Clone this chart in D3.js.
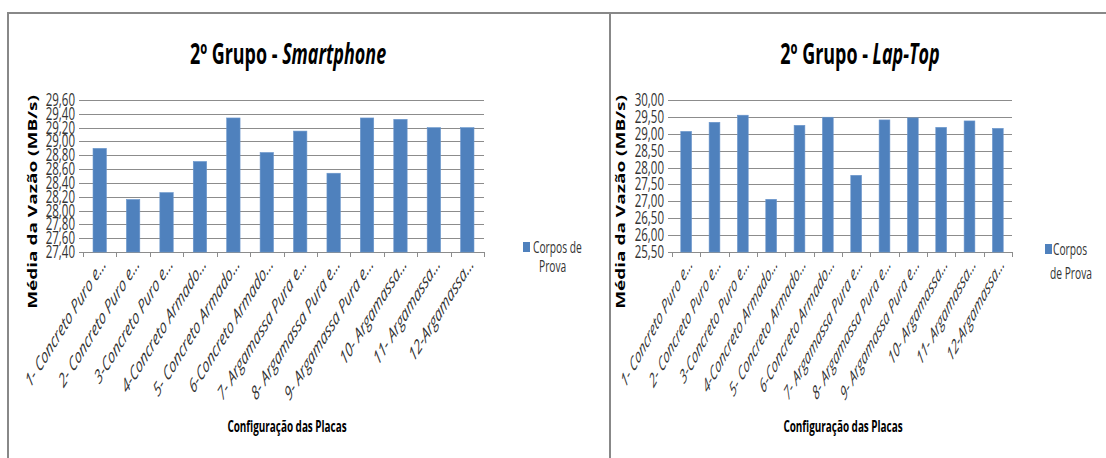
<!DOCTYPE html>
<html>
<head>
<meta charset="utf-8">
<script src="https://cdn.jsdelivr.net/npm/d3@7"></script>
<style>
  body { margin: 0; background: #fff; }
  text { font-family: "Open Sans", "Liberation Sans", sans-serif; fill: #1a1a1a; }
</style>
</head>
<body>
<div id="root"></div>
<script>
// Data
const placas = [
  "1- Concreto Puro e...", "2- Concreto Puro e...", "3-Concreto Puro e...",
  "4-Concreto Armado...", "5- Concreto Armado...", "6-Concreto Armado...",
  "7- Argamassa Pura e...", "8- Argamassa Pura e...", "9- Argamassa Pura e...",
  "10- Argamassa...", "11- Argamassa...", "12-Argamassa..."
]
const smartphoneValues = [28.90, 28.16, 28.26, 28.71, 29.34, 28.84, 29.15, 28.54, 29.34, 29.32, 29.20, 29.20]
const laptopValues = [29.07, 29.34, 29.55, 27.06, 29.25, 29.49, 27.77, 29.41, 29.47, 29.19, 29.38, 29.16]
const smartphoneTicks = [27.4, 27.6, 27.8, 28.0, 28.2, 28.4, 28.6, 28.8, 29.0, 29.2, 29.4, 29.6]
const laptopTicks = [25.5, 26.0, 26.5, 27.0, 27.5, 28.0, 28.5, 29.0, 29.5, 30.0]
const legendLines = ["Corpos de", "Prova"]
const legendLinesRight = ["Corpos", "de Prova"]

const W = 1106, H = 458
const sx = 0.64 // the source picture is squeezed horizontally
const barColor = "#4F81BD"
const gridColor = "#8c8c8c"
const fmt = d => d.toFixed(2).replace(".", ",")

const svg = d3.select("#root")
  .append("svg")
    .attr("width", W)
    .attr("height", H)

// Frame
svg.append("path")
  .attr("d", `M8,${H} V13 H${W} M610,13 V${H}`)
  .attr("fill", "none")
  .attr("stroke", "#888")
  .attr("stroke-width", 2)

function drawChart(cfg) {
  const g = svg.append("g")
  const {left, right, top, bottom} = cfg.plot

  const x = d3.scaleBand()
    .domain(placas)
    .range([left, right])
    .paddingInner(cfg.pad)
    .paddingOuter(cfg.pad / 2)

  const slot = d3.scaleBand()
    .domain(placas)
    .range([left, right])

  const y = d3.scaleLinear()
    .domain([cfg.ticks[0], cfg.ticks[cfg.ticks.length - 1]])
    .range([bottom, top])

  // Title
  const title = g.append("text")
    .attr("transform", `translate(${cfg.titleX},64) scale(${sx},1)`)
    .attr("text-anchor", "middle")
    .attr("font-size", 28)
    .attr("font-weight", "bold")
    .style("fill", "#000")
  title.append("tspan").text("2º Grupo - ")
  title.append("tspan").attr("font-style", "italic").text(cfg.titleItalic)

  // Gridlines
  g.append("g")
    .selectAll("line")
    .data(cfg.ticks)
    .enter()
    .append("line")
    .attr("x1", left - 4)
    .attr("x2", right)
    .attr("y1", d => Math.round(y(d)) + 0.5)
    .attr("y2", d => Math.round(y(d)) + 0.5)
    .attr("stroke", gridColor)

  // Y tick labels
  g.append("g")
    .selectAll("text")
    .data(cfg.ticks)
    .enter()
    .append("text")
    .attr("transform", d => `translate(${left - 8},${y(d) + 6}) scale(${sx},1)`)
    .attr("text-anchor", "end")
    .attr("font-size", 18)
    .style("fill", "#333")
    .text(fmt)

  // Category ticks at slot boundaries
  const bounds = placas.map(d => slot(d)).concat([right])
  g.append("g")
    .selectAll("line")
    .data(bounds)
    .enter()
    .append("line")
    .attr("x1", d => Math.round(d) + 0.5)
    .attr("x2", d => Math.round(d) + 0.5)
    .attr("y1", bottom)
    .attr("y2", bottom + 5)
    .attr("stroke", gridColor)

  // Bars
  g.append("g")
    .selectAll("rect")
    .data(cfg.values)
    .enter()
    .append("rect")
    .attr("x", (d, i) => x(placas[i]))
    .attr("y", d => y(d))
    .attr("width", x.bandwidth())
    .attr("height", d => bottom - y(d))
    .attr("fill", barColor)
    .attr("stroke", "#6a96cc")
    .attr("stroke-width", 0.6)

  // X labels
  g.append("g")
    .selectAll("text")
    .data(placas)
    .enter()
    .append("text")
    .attr("transform", d => `translate(${x(d) + x.bandwidth() / 2 + 7},${bottom + 13}) scale(${cfg.labelSx},1) rotate(-45)`)
    .attr("text-anchor", "end")
    .attr("font-size", 19.5)
    .attr("font-style", "italic")
    .style("fill", "#333")
    .text(d => d)

  // Axis titles
  g.append("text")
    .attr("transform", `translate(${cfg.yTitleX},${cfg.yTitleY}) scale(${sx},1) rotate(-90)`)
    .attr("text-anchor", "middle")
    .attr("font-family", "DejaVu Sans")
    .attr("font-size", 19)
    .attr("font-weight", "bold")
    .style("fill", "#000")
    .text("Média da Vazão (MB/s)")

  g.append("text")
    .attr("transform", `translate(${cfg.xTitleX},432) scale(${sx},1)`)
    .attr("text-anchor", "middle")
    .attr("font-size", 15.5)
    .attr("font-weight", "bold")
    .style("fill", "#000")
    .text("Configuração das Placas")

  // Legend
  const lg = g.append("g")
  lg.append("rect")
    .attr("x", cfg.legend.x)
    .attr("y", cfg.legend.y)
    .attr("width", 7)
    .attr("height", 10)
    .attr("fill", barColor)
  lg.selectAll("text")
    .data(cfg.legend.lines)
    .enter()
    .append("text")
    .attr("transform", (d, i) => `translate(${cfg.legend.tx[i]},${cfg.legend.ty[i]}) scale(${sx},1)`)
    .attr("font-size", 16)
    .style("fill", "#333")
    .text(d => d)
}

drawChart({
  plot: {left: 83, right: 484, top: 100, bottom: 252},
  values: smartphoneValues,
  ticks: smartphoneTicks,
  pad: 0.6,
  labelSx: 0.62,
  titleX: 288,
  titleItalic: "Smartphone",
  yTitleX: 37,
  yTitleY: 202,
  xTitleX: 287,
  legend: {x: 523, y: 242, lines: legendLines, tx: [533, 539], ty: [253, 272]},
})

drawChart({
  plot: {left: 672, right: 1012, top: 100, bottom: 252},
  values: laptopValues,
  ticks: laptopTicks,
  pad: 0.62,
  labelSx: 0.55,
  titleX: 860,
  titleItalic: "Lap-Top",
  yTitleX: 625,
  yTitleY: 202,
  xTitleX: 843,
  legend: {x: 1045, y: 244, lines: legendLinesRight, tx: [1053, 1050], ty: [255, 279]},
})
</script>
</body>
</html>
